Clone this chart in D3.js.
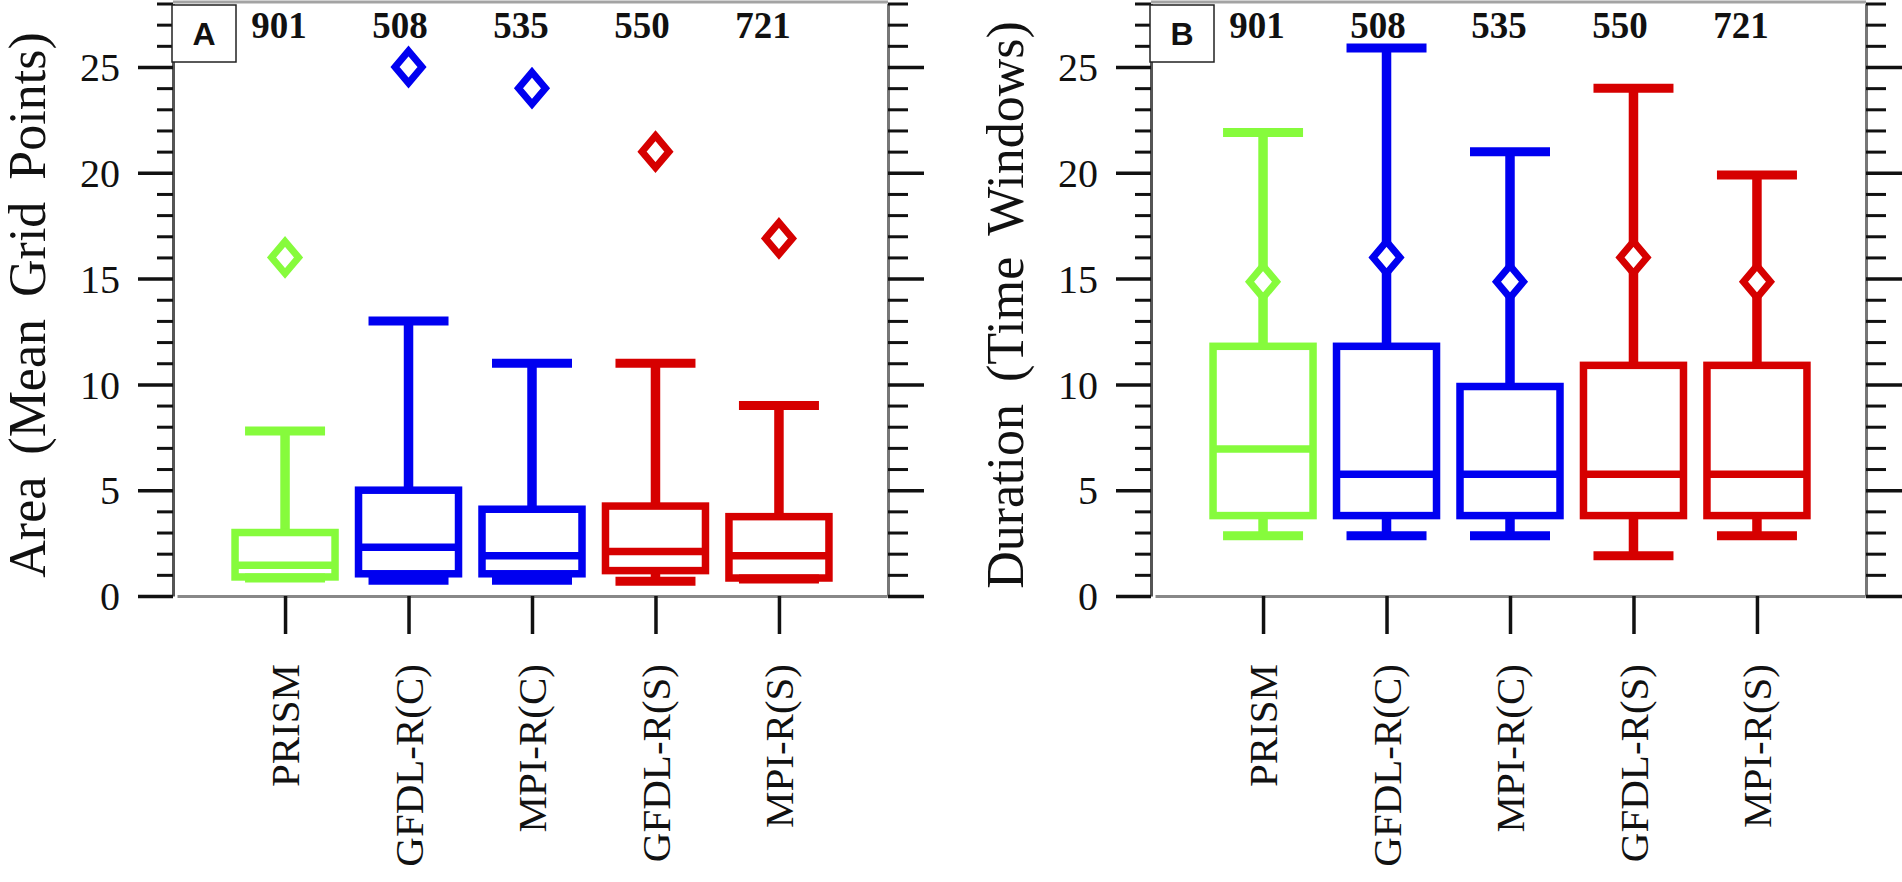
<!DOCTYPE html>
<html>
<head>
    <title>Area and Duration box plots</title>
    <script src="https://d3js.org/d3.v7.min.js"></script>
    <style>
        body { margin: 0; background: #fff; }
        .tick-label { font-family: "Liberation Serif", "Times New Roman", serif; font-size: 40px; fill: #111; }
        .cat-label { font-family: "Liberation Serif", "Times New Roman", serif; font-size: 41px; fill: #111; }
        .y-title { font-family: "Liberation Serif", "Times New Roman", serif; font-size: 52px; fill: #111; }
        .count { font-family: "Liberation Serif", "Times New Roman", serif; font-size: 37px; font-weight: bold; fill: #111; }
        .panel-tag { font-family: "Liberation Sans", Arial, sans-serif; font-size: 32px; font-weight: bold; fill: #111; }
    </style>
</head>
<body>
    <svg width="1902" height="882"></svg>
    <script>
        // categories and sample sizes
        var categories = ["PRISM", "GFDL-R(C)", "MPI-R(C)", "GFDL-R(S)", "MPI-R(S)"];
        var counts = [901, 508, 535, 550, 721];
        var colors = ["#86fb3c", "#0000f0", "#0000f0", "#d60000", "#d60000"];

        // panel A: area (mean grid points)
        var areaMin    = [0.85, 0.75, 0.75, 0.7, 0.8];
        var areaQ1     = [0.9, 1.05, 1.05, 1.2, 0.85];
        var areaMedian = [1.45, 2.3, 1.9, 2.1, 1.9];
        var areaQ3     = [3.0, 5.0, 4.1, 4.25, 3.75];
        var areaMax    = [7.8, 13, 11, 11, 9];
        var areaMean   = [16, 25, 24, 21, 16.9];

        // panel B: duration (time windows)
        var durMin    = [2.85, 2.85, 2.85, 1.9, 2.85];
        var durQ1     = [3.8, 3.8, 3.8, 3.8, 3.8];
        var durMedian = [6.95, 5.75, 5.75, 5.75, 5.75];
        var durQ3     = [11.8, 11.8, 9.9, 10.9, 10.9];
        var durMax    = [21.9, 25.9, 21, 24, 19.9];
        var durMean   = [14.85, 16, 14.85, 16, 14.85];

        var yMajor = [0, 5, 10, 15, 20, 25];
        var yMinor = d3.range(1, 29).filter(function(v) { return v % 5 !== 0; });

        var svg = d3.select("svg");
        var plotW = 715, plotTop = 3.5, plotBottom = 596;

        var y = d3.scaleLinear().domain([0, 28]).range([plotBottom, plotTop]);
        var x = d3.scalePoint().domain(categories).range([4, 714]).padding(0.875);

        function rows(mins, q1s, meds, q3s, maxs, means) {
            return categories.map(function(c, i) {
                return {cat: c, i: i, min: mins[i], q1: q1s[i], med: meds[i], q3: q3s[i], max: maxs[i], mean: means[i], color: colors[i]};
            });
        }

        var panels = [
            {left: 173, tag: "A", title: "Area (Mean Grid Points)",
             data: rows(areaMin, areaQ1, areaMedian, areaQ3, areaMax, areaMean)},
            {left: 1151, tag: "B", title: "Duration (Time Windows)",
             data: rows(durMin, durQ1, durMedian, durQ3, durMax, durMean)}
        ];

        panels.forEach(function(p) {
            var g = svg.append("g").attr("transform", "translate(" + p.left + ",0)");

            // top frame line
            g.append("line")
                .attr("x1", 0).attr("x2", plotW).attr("y1", 2).attr("y2", 2)
                .attr("stroke", "#a3a3a3").attr("stroke-width", 3);

            // left axis, major + minor ticks pointing out
            var leftMajor = g.append("g")
                .call(d3.axisLeft(y).tickValues(yMajor).tickSize(35).tickSizeOuter(0).tickPadding(18));
            leftMajor.attr("font-size", null).attr("font-family", null);
            leftMajor.select(".domain").attr("stroke", "#555").attr("stroke-width", 3);
            leftMajor.selectAll(".tick line").attr("stroke", "#111").attr("stroke-width", 3.5);
            leftMajor.selectAll(".tick text").attr("class", "tick-label").attr("dy", "0.34em");

            var leftMinor = g.append("g")
                .call(d3.axisLeft(y).tickValues(yMinor).tickSize(16).tickSizeOuter(0).tickFormat(""));
            leftMinor.select(".domain").remove();
            leftMinor.selectAll(".tick line").attr("stroke", "#111").attr("stroke-width", 3);

            // right mirror axis
            var rightMajor = g.append("g").attr("transform", "translate(" + plotW + ",0)")
                .call(d3.axisRight(y).tickValues(yMajor).tickSize(36).tickSizeOuter(0).tickFormat(""));
            rightMajor.select(".domain").attr("stroke", "#777").attr("stroke-width", 3);
            rightMajor.selectAll(".tick line").attr("stroke", "#111").attr("stroke-width", 3.5);

            var rightMinor = g.append("g").attr("transform", "translate(" + plotW + ",0)")
                .call(d3.axisRight(y).tickValues(yMinor).tickSize(20).tickSizeOuter(0).tickFormat(""));
            rightMinor.select(".domain").remove();
            rightMinor.selectAll(".tick line").attr("stroke", "#111").attr("stroke-width", 3);

            // bottom axis with rotated category labels
            var xAxis = g.append("g").attr("transform", "translate(0," + plotBottom + ")")
                .call(d3.axisBottom(x).tickSize(38).tickSizeOuter(0));
            xAxis.attr("font-size", null).attr("font-family", null);
            xAxis.select(".domain").attr("stroke", "#888").attr("stroke-width", 3);
            xAxis.selectAll(".tick line").attr("stroke", "#111").attr("stroke-width", 3.5);
            xAxis.selectAll(".tick text")
                .attr("class", "cat-label")
                .attr("transform", "rotate(-90)")
                .attr("x", -68).attr("y", 0).attr("dy", "0.33em")
                .style("text-anchor", "end");

            // y title
            g.append("text")
                .attr("class", "y-title")
                .attr("transform", "translate(-128,305) rotate(-90)")
                .attr("text-anchor", "middle")
                .attr("word-spacing", 9)
                .text(p.title);

            // box plots
            var boxW = 100, capW = 80;
            var box = g.selectAll("g.box").data(p.data).enter().append("g").attr("class", "box");

            box.append("line")
                .attr("x1", function(d) { return x(d.cat); }).attr("x2", function(d) { return x(d.cat); })
                .attr("y1", function(d) { return y(d.q3); }).attr("y2", function(d) { return y(d.max); })
                .attr("stroke", function(d) { return d.color; }).attr("stroke-width", 9.5);
            box.append("line")
                .attr("x1", function(d) { return x(d.cat); }).attr("x2", function(d) { return x(d.cat); })
                .attr("y1", function(d) { return y(d.min); }).attr("y2", function(d) { return y(d.q1); })
                .attr("stroke", function(d) { return d.color; }).attr("stroke-width", 9.5);

            ["max", "min"].forEach(function(k) {
                box.append("line")
                    .attr("x1", function(d) { return x(d.cat) - capW / 2; })
                    .attr("x2", function(d) { return x(d.cat) + capW / 2; })
                    .attr("y1", function(d) { return y(d[k]); }).attr("y2", function(d) { return y(d[k]); })
                    .attr("stroke", function(d) { return d.color; }).attr("stroke-width", 9);
            });

            box.append("rect")
                .attr("x", function(d) { return x(d.cat) - boxW / 2; })
                .attr("y", function(d) { return y(d.q3); })
                .attr("width", boxW)
                .attr("height", function(d) { return y(d.q1) - y(d.q3); })
                .attr("fill", "none")
                .attr("stroke", function(d) { return d.color; }).attr("stroke-width", 7.5);

            box.append("line")
                .attr("x1", function(d) { return x(d.cat) - boxW / 2; })
                .attr("x2", function(d) { return x(d.cat) + boxW / 2; })
                .attr("y1", function(d) { return y(d.med); }).attr("y2", function(d) { return y(d.med); })
                .attr("stroke", function(d) { return d.color; }).attr("stroke-width", 7.5);

            // mean diamonds
            box.append("path")
                .attr("d", function(d) {
                    var cx = x(d.cat), cy = y(d.mean);
                    return "M" + cx + "," + (cy - 16) + "L" + (cx + 13.5) + "," + cy +
                        "L" + cx + "," + (cy + 16) + "L" + (cx - 13.5) + "," + cy + "Z";
                })
                .attr("fill", "#fff")
                .attr("stroke", function(d) { return d.color; }).attr("stroke-width", 7);

            // sample size labels
            g.selectAll("text.count").data(p.data).enter().append("text")
                .attr("class", "count")
                .attr("x", function(d) { return x(d.cat) - 6 - 2.5 * d.i; })
                .attr("y", 38)
                .attr("text-anchor", "middle")
                .text(function(d) { return counts[d.i]; });

            // panel tag box
            g.append("rect")
                .attr("x", -1).attr("y", 5).attr("width", 64).attr("height", 57)
                .attr("fill", "#fff").attr("stroke", "#222").attr("stroke-width", 1.5);
            g.append("text")
                .attr("class", "panel-tag")
                .attr("x", 31).attr("y", 45)
                .attr("text-anchor", "middle")
                .text(p.tag);
        });
    </script>
</body>
</html>
